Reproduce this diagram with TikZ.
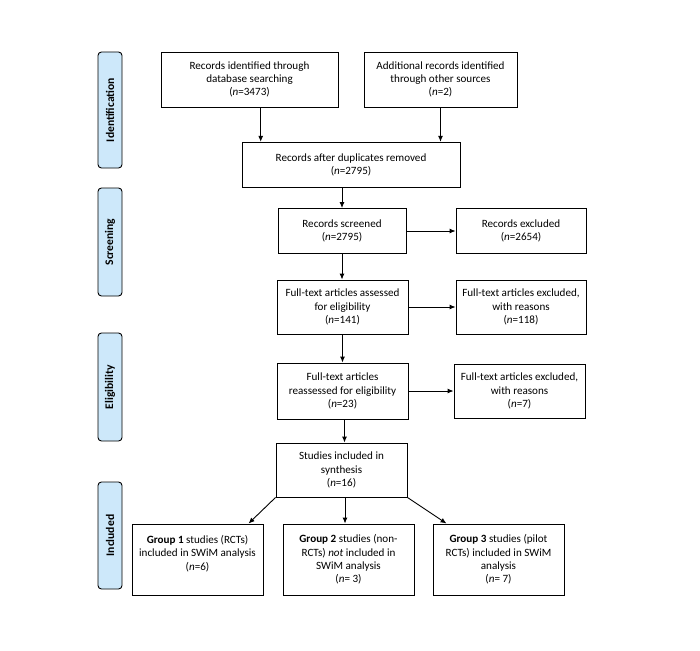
\documentclass[tikz,border=0pt]{standalone}
\usepackage{fontspec}
\setmainfont{Carlito}
\usetikzlibrary{arrows.meta}
\definecolor{phase}{RGB}{205,232,250}
\begin{document}
\begin{tikzpicture}[x=1pt,y=-1pt,
  box/.style={draw=black,line width=0.9pt,align=center,inner sep=2pt,
    font=\fontsize{11.1}{13.4}\selectfont},
  phasebox/.style={draw=black,line width=0.9pt,fill=phase,rounded corners=3.5pt,
    minimum width=24,inner sep=0pt},
  phasetext/.style={rotate=90,font=\fontsize{11.6}{12}\selectfont\bfseries},
  arr/.style={line width=0.9pt,-{Latex[length=6pt,width=5pt]}}]
\useasboundingbox (0,0) rectangle (700,650);
% phase labels
\node[phasebox,minimum height=116] (p1) at (110,110) {};
\node[phasetext] (p1t) at (p1.center) {Identification};
\node[phasebox,minimum height=108] (p2) at (110,242) {};
\node[phasetext] (p2t) at (p2.center) {Screening};
\node[phasebox,minimum height=108] (p3) at (110,387) {};
\node[phasetext] (p3t) at (p3.center) {Eligibility};
\node[phasebox,minimum height=107] (p4) at (110,535.5) {};
\node[phasetext] (p4t) at (p4.center) {Included};
% boxes
\node[box,minimum width=177,minimum height=55] (A) at (249.5,79.5)
  {Records identified through\\database searching\\(\textit{n}=3473)};
\node[box,minimum width=153,minimum height=55] (B) at (440.5,79.5)
  {Additional records identified\\through other sources\\(\textit{n}=2)};
\node[box,minimum width=218,minimum height=45] (C) at (351,164.8)
  {Records after duplicates removed\\(\textit{n}=2795)};
\node[box,minimum width=128,minimum height=45] (D) at (342,231)
  {Records screened\\(\textit{n}=2795)};
\node[box,minimum width=130,minimum height=45] (E) at (521,231)
  {Records excluded\\(\textit{n}=2654)};
\node[box,minimum width=131,minimum height=54] (F) at (342.5,307)
  {Full-text articles assessed\\for eligibility\\(\textit{n}=141)};
\node[box,minimum width=130,minimum height=54] (G) at (521,307)
  {Full-text articles excluded,\\with reasons\\(\textit{n}=118)};
\node[box,minimum width=131,minimum height=56] (H) at (342.5,391)
  {Full-text articles\\reassessed for eligibility\\(\textit{n}=23)};
\node[box,minimum width=131,minimum height=54] (I) at (519.5,391)
  {Full-text articles excluded,\\with reasons\\(\textit{n}=7)};
\node[box,minimum width=131,minimum height=54] (J) at (341.5,470)
  {Studies included in\\synthesis\\(\textit{n}=16)};
\node[box,minimum width=131,minimum height=71] (K) at (197.5,559.5)
  {\textbf{Group 1} studies (RCTs)\\included in SWiM analysis\\(\textit{n}=6)\\\mbox{}};
\node[box,minimum width=131,minimum height=71] (L) at (348.5,559.5)
  {\textbf{Group 2} studies (non-\\RCTs) \textit{not} included in\\SWiM analysis\\(\textit{n}= 3)};
\node[box,minimum width=131,minimum height=71] (M) at (498.5,559.5)
  {\textbf{Group 3} studies (pilot\\RCTs) included in SWiM\\analysis\\(\textit{n}= 7)};
% connectors
\draw[arr] ([xshift=11.2]A.south) -- ([xshift=11.2]A.south |- C.north);
\draw[arr] (B.south) -- (B.south |- C.north);
\draw[arr] (C.south -| D.north) -- (D.north);
\draw[arr] (D.east) -- (E.west);
\draw[arr] (D.south) -- (D.south |- F.north);
\draw[arr] (F.east) -- (F.east -| G.west);
\draw[arr] (F.south) -- (F.south |- H.north);
\draw[arr] (H.east) -- (H.east -| I.west);
\draw[arr] ([xshift=3]J.north |- H.south) -- ([xshift=3]J.north);
\draw[arr] (J.south west) -- ([xshift=51]K.north);
\draw[arr] ([xshift=3.5]J.south) -- ([xshift=3.5]J.south |- L.north);
\draw[arr] (J.south east) -- ([xshift=-52]M.north);
\end{tikzpicture}
\end{document}
